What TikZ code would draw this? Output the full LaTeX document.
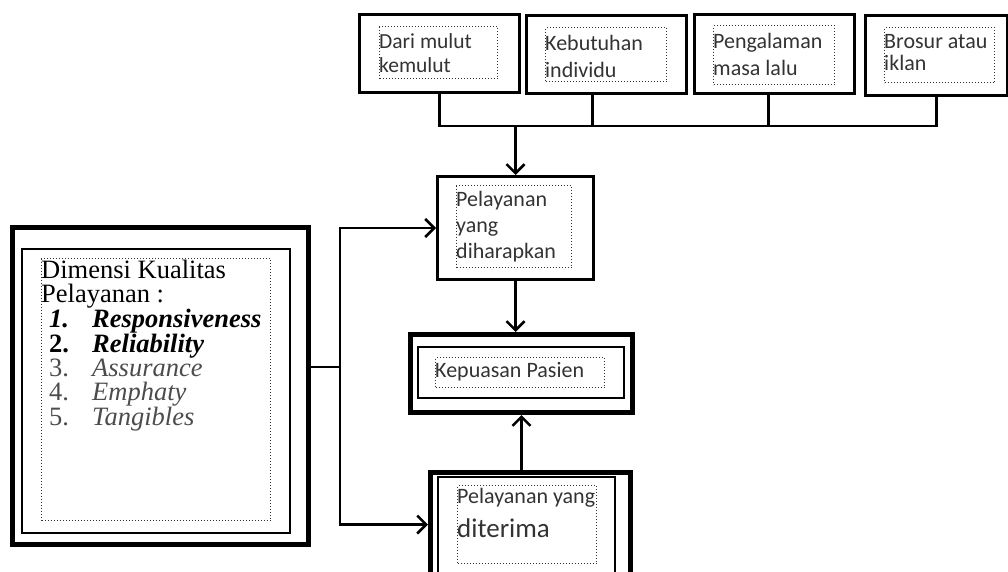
\documentclass[tikz,border=0pt]{standalone}
\usepackage{fontspec}
\setmainfont{Liberation Serif}
\newfontfamily\boxfont{Carlito}
\usetikzlibrary{arrows.meta,positioning}

\begin{document}
\begin{tikzpicture}[x=1pt,y=-1pt,every node/.style={inner sep=0pt,anchor=north west},factor/.style={rectangle,draw=black,line width=3pt},thickbox/.style={rectangle,draw=black,line width=5pt},thinbox/.style={rectangle,draw=black,line width=1.5pt},dotbox/.style={rectangle,draw=black!80,dotted,line width=1pt},label/.style={anchor=base west,align=left,text=black!80,font=\boxfont\fontsize{22}{25}\selectfont},link/.style={line width=2.5pt},arrow/.style={-{Straight Barb[length=9pt,width=18pt]},line width=2.5pt}]
\useasboundingbox(0,0)rectangle(1008,571);
\clip(0,0)rectangle(1008,571);
% four sources of expectation (label nodes sit on the baseline of their last line)
\node[factor,minimum width=160pt,minimum height=78pt](mulut)at(358,13){};
\node[dotbox,minimum width=118pt,minimum height=52pt](mulut-in)at(379,26){};
\node[label,font=\boxfont\fontsize{21.5}{24}\selectfont](mulut-txt)at(379,72){Dari mulut\\kemulut};
\node[factor,minimum width=160pt,minimum height=78pt](needs)at(525,14){};
\node[dotbox,minimum width=121pt,minimum height=54pt](needs-in)at(545,27){};
\node[label,font=\boxfont\fontsize{22}{27}\selectfont](needs-txt)at(545,77){Kebutuhan\\individu};
\node[factor,minimum width=160pt,minimum height=79pt](past)at(693,13){};
\node[dotbox,minimum width=121pt,minimum height=59pt](past-in)at(713,25){};
\node[label,font=\boxfont\fontsize{22}{27}\selectfont](past-txt)at(713,75){Pengalaman\\masa lalu};
\node[factor,minimum width=142pt,minimum height=80pt](promo)at(864,14){};
\node[dotbox,minimum width=110pt,minimum height=55pt](promo-in)at(884,27){};
\node[label,font=\boxfont\fontsize{22}{22}\selectfont](promo-txt)at(884,70){Brosur atau\\iklan};
% expected and received service
\node[factor,minimum width=156pt,minimum height=103pt](expected)at(436,175){};
\node[dotbox,minimum width=115pt,minimum height=82pt](expected-in)at(456,185){};
\node[label,font=\boxfont\fontsize{22}{25.7}\selectfont](expected-txt)at(456,258){Pelayanan\\yang\\diharapkan};
\node[thickbox,minimum width=222pt,minimum height=78pt](satisfaction)at(408,332){};
\node[thinbox,minimum width=206pt,minimum height=51pt](satisfaction-in)at(417,346){};
\node[dotbox,minimum width=169pt,minimum height=30pt](satisfaction-dot)at(435,357){};
\node[label](satisfaction-txt)at(435,377){Kepuasan Pasien};
\node[thickbox,minimum width=200pt,minimum height=104pt](received)at(428,470){};
\node[thinbox,minimum width=177pt,minimum height=110pt](received-in)at(437,476){};
\node[dotbox,minimum width=139pt,minimum height=78pt](received-dot)at(457,485){};
\node[label,font=\boxfont\fontsize{22}{34}\selectfont](received-txt)at(457,537){Pelayanan yang\\{\fontsize{27}{34}\selectfont diterima}};
% dimensions of service quality
\node[thickbox,minimum width=296pt,minimum height=317pt](dimensi)at(10,225){};
\node[thinbox,minimum width=268pt,minimum height=284pt](dimensi-in)at(21,248){};
\node[dotbox,minimum width=229pt,minimum height=262pt](dimensi-dot)at(41,258){};
\node[anchor=base west,align=left,font=\fontsize{26.5}{23.9}\selectfont](dimensi-txt)at(41,425.4){Dimensi Kualitas\\Pelayanan :\\\hspace*{8pt}\makebox[43pt][l]{\textbf{\textit{1.}}}\textbf{\textit{Responsiveness}}\\\hspace*{8pt}\makebox[43pt][l]{\textbf{2.}}\textbf{\textit{Reliability}}\\\hspace*{8pt}\color{black!70}\makebox[43pt][l]{3.}\textit{Assurance}\\\hspace*{8pt}\color{black!70}\makebox[43pt][l]{4.}\textit{Emphaty}\\\hspace*{8pt}\color{black!70}\makebox[43pt][l]{5.}\textit{Tangibles}};
% connectors
\coordinate(bus)at(512,126);
\coordinate(fork)at(340,367);
\draw[link](mulut.south)--(mulut.south|-bus)--(promo.south|-bus)--(promo.south);
\draw[link]([xshift=-14pt]needs.south)--([xshift=-14pt]needs.south|-bus);
\draw[link]([xshift=-6pt]past.south)--([xshift=-6pt]past.south|-bus);
\draw[arrow](expected.north|-bus)--(expected.north);
\draw[arrow](expected.south)--(expected.south|-satisfaction.north);
\draw[arrow](satisfaction.south|-received.north)--(satisfaction.south);
\draw[link](dimensi.east|-fork)--(fork);
\draw[arrow](fork)|-(expected.west);
\draw[arrow](fork)|-(received.west);
\end{tikzpicture}
\end{document}
